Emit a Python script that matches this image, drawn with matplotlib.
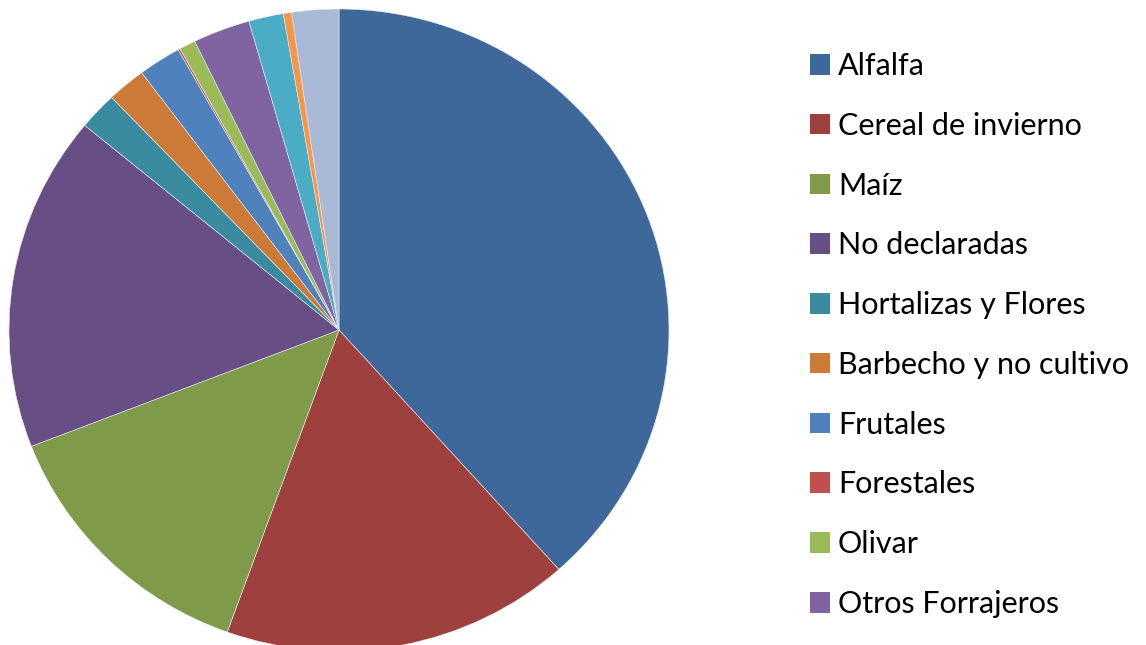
from matplotlib import pyplot as plt

plt.rcParams['font.family'] = ['Lato', 'DejaVu Sans']

# land use shares (%), clockwise from 12 o'clock
labels = ['Alfalfa', 'Cereal de invierno', 'Maíz', 'No declaradas',
          'Hortalizas y Flores', 'Barbecho y no cultivo', 'Frutales',
          'Forestales', 'Olivar', 'Otros Forrajeros',
          'Viñedo', 'Leguminosas', 'Otros']
shares = [38.4, 17.1, 13.6, 16.9, 1.9, 1.9, 2.1, 0.1, 0.8, 2.8, 1.7, 0.4, 2.3]
colors = ['#3F689A', '#9E413E', '#7F9A48', '#674F86', '#3A8BA0', '#CB7A37',
          '#4F81BD', '#C0504D', '#9BBB59', '#8064A2', '#4BACC6', '#F79646',
          '#AAB9D7']
n_legend = 10  # legend in the original is cut after ten entries

W, H = 1146, 645
fig = plt.figure(figsize=(W / 100, H / 100), dpi=100)
# pie is slightly wider than tall in the source image
ax = fig.add_axes([9 / W, (H - 651) / H, 660 / W, 642 / H])

wedges, _ = ax.pie(shares, colors=colors, startangle=90, counterclock=False,
                   wedgeprops=dict(edgecolor='#e8ecf2', linewidth=0.4))
ax.set_aspect('auto')
ax.set_xlim(-1, 1)
ax.set_ylim(-1, 1)
ax.axis('off')

leg = fig.legend(wedges[:n_legend], labels[:n_legend], loc='upper left',
                 bbox_to_anchor=(810 / W, 1 - 52 / H), frameon=False,
                 fontsize=22, handlelength=0.655, handleheight=0.655,
                 handletextpad=0.26, labelspacing=1.04, borderaxespad=0,
                 borderpad=0)
for h in leg.legend_handles:
    h.set_edgecolor('none')

fig.savefig('out.png', dpi=100)
